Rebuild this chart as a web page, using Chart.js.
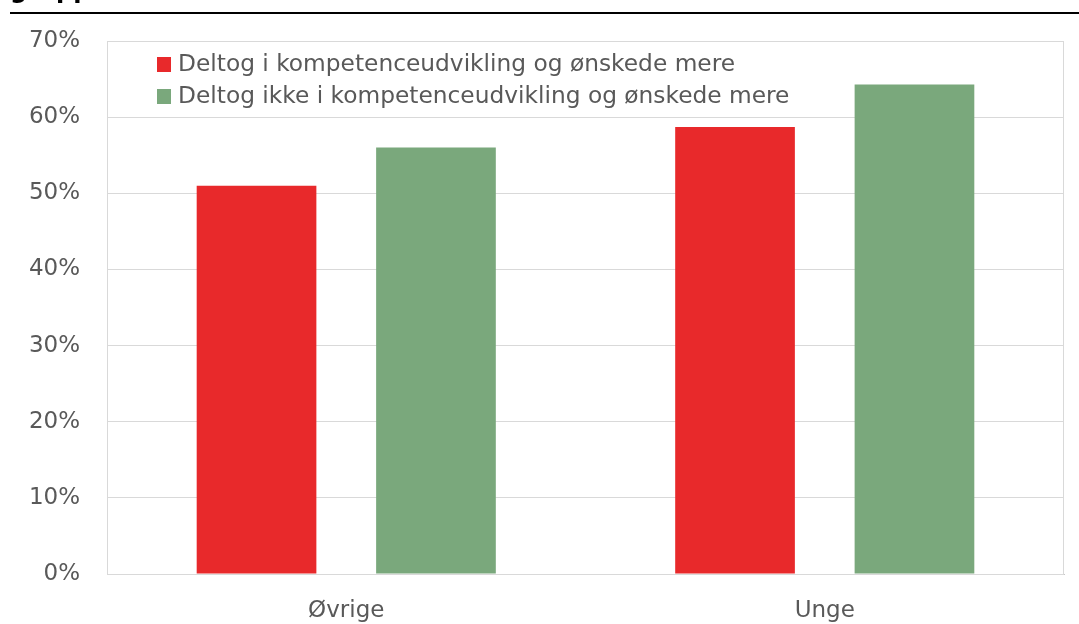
<!DOCTYPE html>
<html>
<head>
<meta charset="utf-8">
<script src="https://cdn.jsdelivr.net/npm/chart.js@4/dist/chart.umd.min.js"></script>
<style>
  html, body { margin: 0; padding: 0; background: #fff; overflow: hidden; }
  #wrap { position: relative; width: 1079px; height: 624px; }
  #title {
    position: absolute; left: 10px; top: -24px;
    font: bold 24px "DejaVu Sans", sans-serif;
    color: #000; white-space: nowrap;
  }
  #rule { position: absolute; left: 10px; right: 0; top: 12px; height: 2px; background: #000; }
  canvas { position: absolute; left: 0; top: 0; }
</style>
</head>
<body>
<div id="wrap">
  <canvas id="chart" width="1079" height="624"></canvas>
  <div id="title">gruppe</div>
  <div id="rule"></div>
</div>
<script>
const categories = ["Øvrige", "Unge"];
const seriesLabels = ["Deltog i kompetenceudvikling og ønskede mere", "Deltog ikke i kompetenceudvikling og ønskede mere"];
const deltog = [51.0, 58.7];
const deltogIkke = [56.0, 64.3];
const colors = ["#e8292b", "#7aa87c"];

const FONT = "'DejaVu Sans', sans-serif";
const textColor = "#595959";
const gridColor = "#d9d9d9";

// legend inside plot + border around plot area
const plotExtras = {
  id: 'plotExtras',
  afterDraw(chart) {
    const ctx = chart.ctx;
    const a = chart.chartArea;
    ctx.save();
    ctx.strokeStyle = gridColor;
    ctx.lineWidth = 1;
    ctx.strokeRect(a.left + 0.5, a.top + 0.5, a.right - a.left - 1, a.bottom - a.top);
    ctx.font = "23.3px " + FONT;
    ctx.textBaseline = 'middle';
    chart.data.datasets.forEach((ds, i) => {
      const y = a.top + 23 + i * 32;
      const x = a.left + 50;
      ctx.fillStyle = ds.backgroundColor;
      ctx.fillRect(x, y - 7, 14, 15);
      ctx.fillStyle = textColor;
      ctx.fillText(ds.label, x + 21, y + 1);
    });
    ctx.restore();
  }
};

new Chart(document.getElementById('chart'), {
  type: 'bar',
  data: {
    labels: categories,
    datasets: [
      { label: seriesLabels[0], data: deltog, backgroundColor: colors[0] },
      { label: seriesLabels[1], data: deltogIkke, backgroundColor: colors[1] }
    ]
  },
  options: {
    responsive: false,
    animation: false,
    layout: { padding: { top: 41, right: 15, left: 0, bottom: 0 } },
    categoryPercentage: 0.75,
    barPercentage: 0.667,
    plugins: { legend: { display: false }, tooltip: { enabled: false } },
    scales: {
      x: {
        grid: { display: false },
        border: { color: "#c8c8c8" },
        ticks: { color: textColor, font: { family: FONT, size: 23 }, padding: 15 },
        afterFit(s) { s.height = 50; }
      },
      y: {
        min: 0, max: 70,
        grid: { color: gridColor, drawTicks: false },
        border: { color: gridColor },
        ticks: {
          stepSize: 10, color: textColor, padding: 27,
          font: { family: FONT, size: 23 },
          callback: v => v + '%'
        },
        afterFit(s) { s.width = 107; }
      }
    }
  },
  plugins: [plotExtras]
});
</script>
</body>
</html>
